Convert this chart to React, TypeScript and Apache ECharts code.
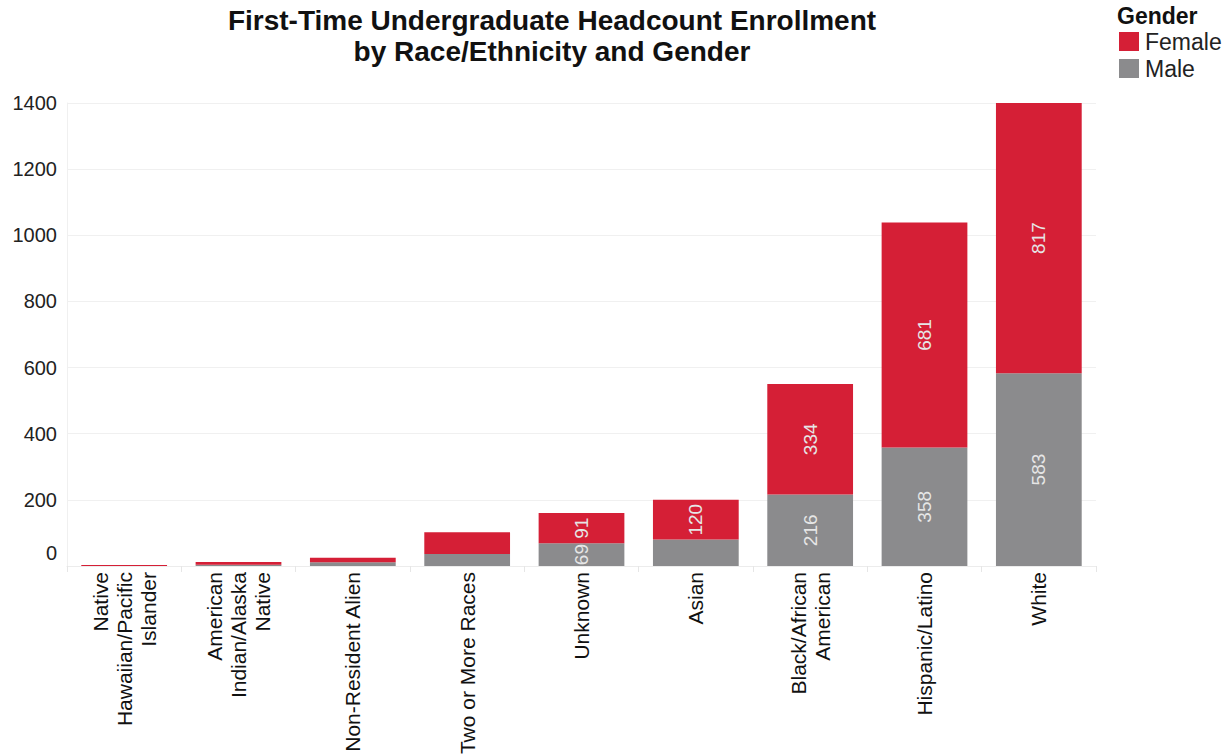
import React, { useEffect, useRef } from "react";
import * as echarts from "echarts";

const categories = [
  "Native\nHawaiian/Pacific\nIslander",
  "American\nIndian/Alaska\nNative",
  "Non-Resident Alien",
  "Two or More Races",
  "Unknown",
  "Asian",
  "Black/African\nAmerican",
  "Hispanic/Latino",
  "White",
];
const maleValues = [0, 4, 11, 36, 69, 80, 216, 358, 583];
const femaleValues = [3, 8, 14, 66, 91, 120, 334, 681, 817];
const maleLabeled = [false, false, false, false, true, false, true, true, true];
const femaleLabeled = [false, false, false, false, true, true, true, true, true];
const yTicks = [0, 200, 400, 600, 800, 1000, 1200, 1400];

const RED = "#D51F36";
const GREY = "#8B8B8D";
const FONT = "Liberation Sans, Arial, sans-serif";

export default function App() {
  const ref = useRef<HTMLDivElement>(null);
  useEffect(() => {
    document.body.style.margin = "0";
    const chart = echarts.init(ref.current!, null, { renderer: "svg" });
    const mkData = (vals: number[], flags: boolean[]) =>
      vals.map((v, i) => ({ value: v, label: { show: flags[i] } }));
    const labelStyle = {
      position: "inside",
      rotate: 90,
      color: "#e6e6e6",
      fontSize: 19,
      fontFamily: FONT,
    };
    chart.setOption({
      animation: false,
      textStyle: { fontFamily: FONT },
      graphic: [
        {
          type: "text",
          x: 552,
          y: 5,
          style: {
            text: "First-Time Undergraduate Headcount Enrollment\nby Race/Ethnicity and Gender",
            textAlign: "center",
            fontSize: 28,
            fontWeight: "bold",
            fontFamily: FONT,
            lineHeight: 31,
            fill: "#111",
          },
        },
        {
          type: "text",
          x: 1117,
          y: 4,
          style: {
            text: "Gender",
            fontSize: 23,
            fontWeight: "bold",
            fontFamily: FONT,
            fill: "#111",
          },
        },
      ],
      legend: {
        orient: "vertical",
        left: 1119,
        top: 30,
        padding: 0,
        icon: "rect",
        itemWidth: 20,
        itemHeight: 19,
        itemGap: 4,
        data: ["Female", "Male"],
        textStyle: { fontSize: 23, lineHeight: 23, color: "#222", fontFamily: FONT, padding: [0, 0, 0, 1] },
      },
      grid: { left: 67, right: 128, top: 103, bottom: 188, outerBoundsMode: "none", containLabel: false },
      xAxis: {
        type: "category",
        data: categories,
        axisLine: { show: true, lineStyle: { color: "#ececec" } },
        axisTick: { show: true, length: 6, lineStyle: { color: "#e6e6e6" } },
        axisLabel: {
          rotate: 90,
          interval: 0,
          margin: 6,
          fontSize: 21,
          lineHeight: 24,
          color: "#111",
          fontFamily: FONT,
        },
      },
      yAxis: {
        type: "value",
        min: yTicks[0],
        max: yTicks[yTicks.length - 1],
        interval: yTicks[1] - yTicks[0],
        axisLine: { show: true, lineStyle: { color: "#f0f0f0" } },
        axisTick: { show: false },
        splitLine: { lineStyle: { color: "#f0f0f0" } },
        axisLabel: {
          fontSize: 20,
          color: "#222",
          margin: 10,
          fontFamily: FONT,
          formatter: (v: number) => (v === 0 ? "{zero|0}" : String(v)),
          rich: { zero: { fontSize: 20, color: "#222", padding: [0, 0, 26, 0] } },
        },
      },
      series: [
        {
          name: "Male",
          type: "bar",
          stack: "total",
          barCategoryGap: "25%",
          itemStyle: { color: GREY },
          label: labelStyle,
          data: mkData(maleValues, maleLabeled),
        },
        {
          name: "Female",
          type: "bar",
          stack: "total",
          barCategoryGap: "25%",
          itemStyle: { color: RED },
          label: labelStyle,
          data: mkData(femaleValues, femaleLabeled),
        },
      ],
    });
    return () => chart.dispose();
  }, []);
  return <div ref={ref} style={{ width: 1224, height: 754 }} />;
}
